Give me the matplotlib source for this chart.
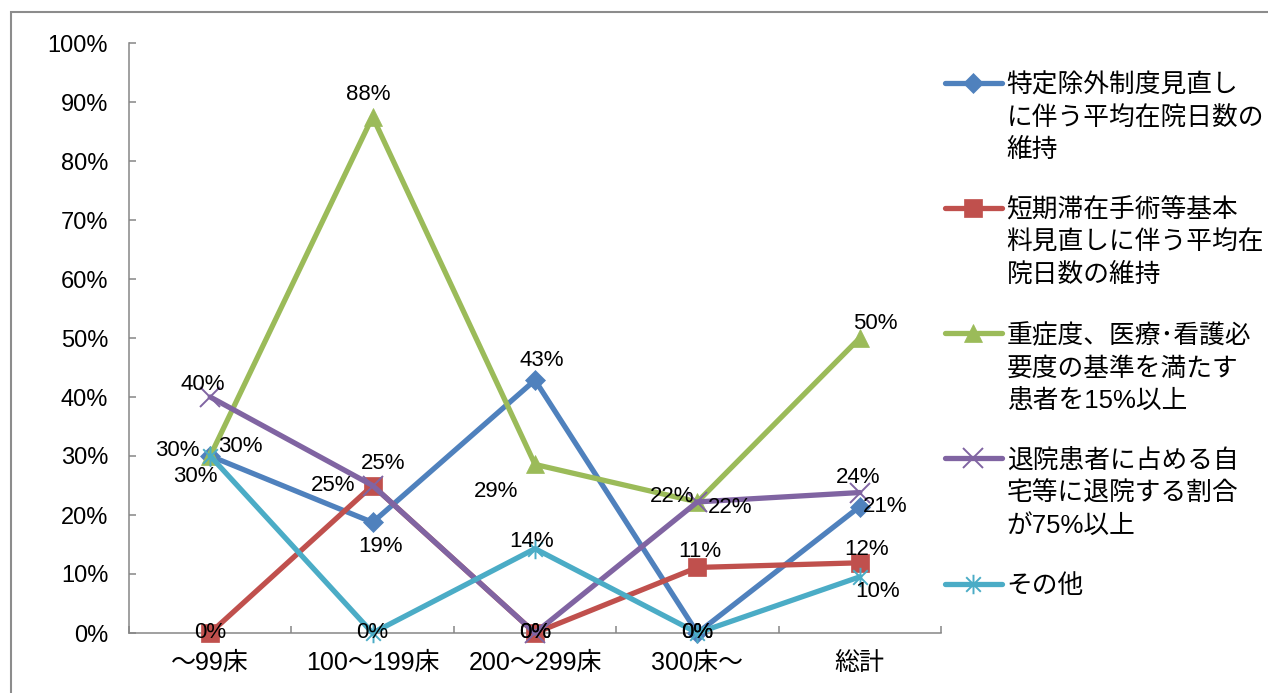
import matplotlib
matplotlib.use("Agg")
import matplotlib.pyplot as plt
from matplotlib.path import Path
from matplotlib.patches import Rectangle
from matplotlib.ticker import PercentFormatter, FixedLocator

# categories (bed size) and series values (share of hospitals)
categories = ["～99床", "100～199床", "200～299床", "300床～", "総計"]

labels = [
    "特定除外制度見直し\nに伴う平均在院日数の\n維持",
    "短期滞在手術等基本\n料見直しに伴う平均在\n院日数の維持",
    "重症度、医療･看護必\n要度の基準を満たす\n患者を15%以上",
    "退院患者に占める自\n宅等に退院する割合\nが75%以上",
    "その他",
]

tokutei = [0.30, 0.1875, 0.4286, 0.0, 0.2143]
tanki = [0.0, 0.25, 0.0, 0.1111, 0.1190]
juusho = [0.30, 0.875, 0.2857, 0.2222, 0.50]
taiin = [0.40, 0.25, 0.0, 0.2222, 0.2381]
sonota = [0.30, 0.0, 0.1429, 0.0, 0.0952]

values = [tokutei, tanki, juusho, taiin, sonota]

# styling
colors = ["#4F81BD", "#C0504D", "#9BBB59", "#8064A2", "#4BACC6"]
star = Path([(0, -1), (0, 1), (-0.75, -0.75), (0.75, 0.75), (-0.75, 0.75), (0.75, -0.75)],
            [Path.MOVETO, Path.LINETO, Path.MOVETO, Path.LINETO, Path.MOVETO, Path.LINETO])
markers = ["D", "s", "^", "x", star]
msizes = [10, 13, 13, 14, 14]
# label offsets in pixels (dx, dy) for each point
offsets = [
    [(-33, 5), (8, -24), (7, 20), (0, 0), (25, 0)],
    [(0, 0), (11, 22), (0, 0), (2, 16), (7, 13)],
    [(-15, -20), (-4, 22), (-39, -27), (-25, 5), (16, 15)],
    [(-7, 12), (-39, 0), (0, 0), (33, -6), (-2, 15)],
    [(30, 9), (0, 0), (-3, 7), (0, 0), (18, -15)],
]

narrow = ["Liberation Sans Narrow", "Liberation Sans", "Noto Sans CJK JP"]
wide = ["Liberation Sans", "Noto Sans CJK JP"]
plt.rcParams["font.family"] = narrow

W, H = 1268, 693
fig = plt.figure(figsize=(W / 100, H / 100), dpi=100)
ax = fig.add_axes([129 / W, 60 / H, 812 / W, 590 / H])

# outer chart frame (right and bottom edges fall outside the image)
fig.add_artist(Rectangle((11 / W, -0.2), 1.5, 1.2 - 12 / H, transform=fig.transFigure,
                         fill=False, edgecolor="#8c8c8c", lw=1.5))

x = list(range(len(categories)))
handles = []
for i, ys in enumerate(values):
    mk = markers[i]
    line_only = mk in ("x",) or isinstance(mk, Path)
    ln, = ax.plot(x, ys, color=colors[i], lw=3.8, marker=mk, markersize=msizes[i],
                  markerfacecolor=colors[i], markeredgecolor=colors[i],
                  markeredgewidth=1.4 if line_only else 0.5,
                  solid_joinstyle="round", solid_capstyle="round",
                  clip_on=False, zorder=3)
    handles.append(ln)

for i, ys in enumerate(values):
    for j, v in enumerate(ys):
        ax.annotate(f"{v:.0%}", (x[j], v), xytext=offsets[i][j], textcoords="offset pixels",
                    ha="center", va="center", fontsize=16, color="black", zorder=5)

ax.set_xlim(-0.5, len(categories) - 0.5)
ax.set_ylim(0, 1)
ax.set_yticks([k / 10 for k in range(11)])
ax.yaxis.set_major_formatter(PercentFormatter(1.0, decimals=0))
ax.set_xticks(x)
ax.set_xticklabels(categories, family=wide, fontsize=18)
ax.xaxis.set_minor_locator(FixedLocator([k - 0.5 for k in range(len(categories) + 1)]))

ax.tick_params(axis="x", which="major", length=0, pad=13)
ax.tick_params(axis="x", which="minor", direction="in", length=5, width=1.1, color="#868686")
ax.tick_params(axis="y", direction="in", length=5, width=1.1, color="#868686",
               labelsize=17, pad=15)

for s in ["top", "right"]:
    ax.spines[s].set_visible(False)
for s in ["left", "bottom"]:
    ax.spines[s].set_color("#868686")
    ax.spines[s].set_linewidth(1.1)

leg = ax.legend(handles, labels, loc="upper left", bbox_to_anchor=(945 / W, 1 - 73 / H),
                bbox_transform=fig.transFigure, frameon=False, fontsize=18.5,
                handlelength=2.2, handleheight=0.85, handletextpad=0.2,
                labelspacing=1.4, borderpad=0, borderaxespad=0)
for t in leg.get_texts():
    t.set_linespacing(1.44)
for col in leg._legend_handle_box.get_children():
    for row in col.get_children():
        row.align = "top"

fig.savefig("out.png", dpi=100)
